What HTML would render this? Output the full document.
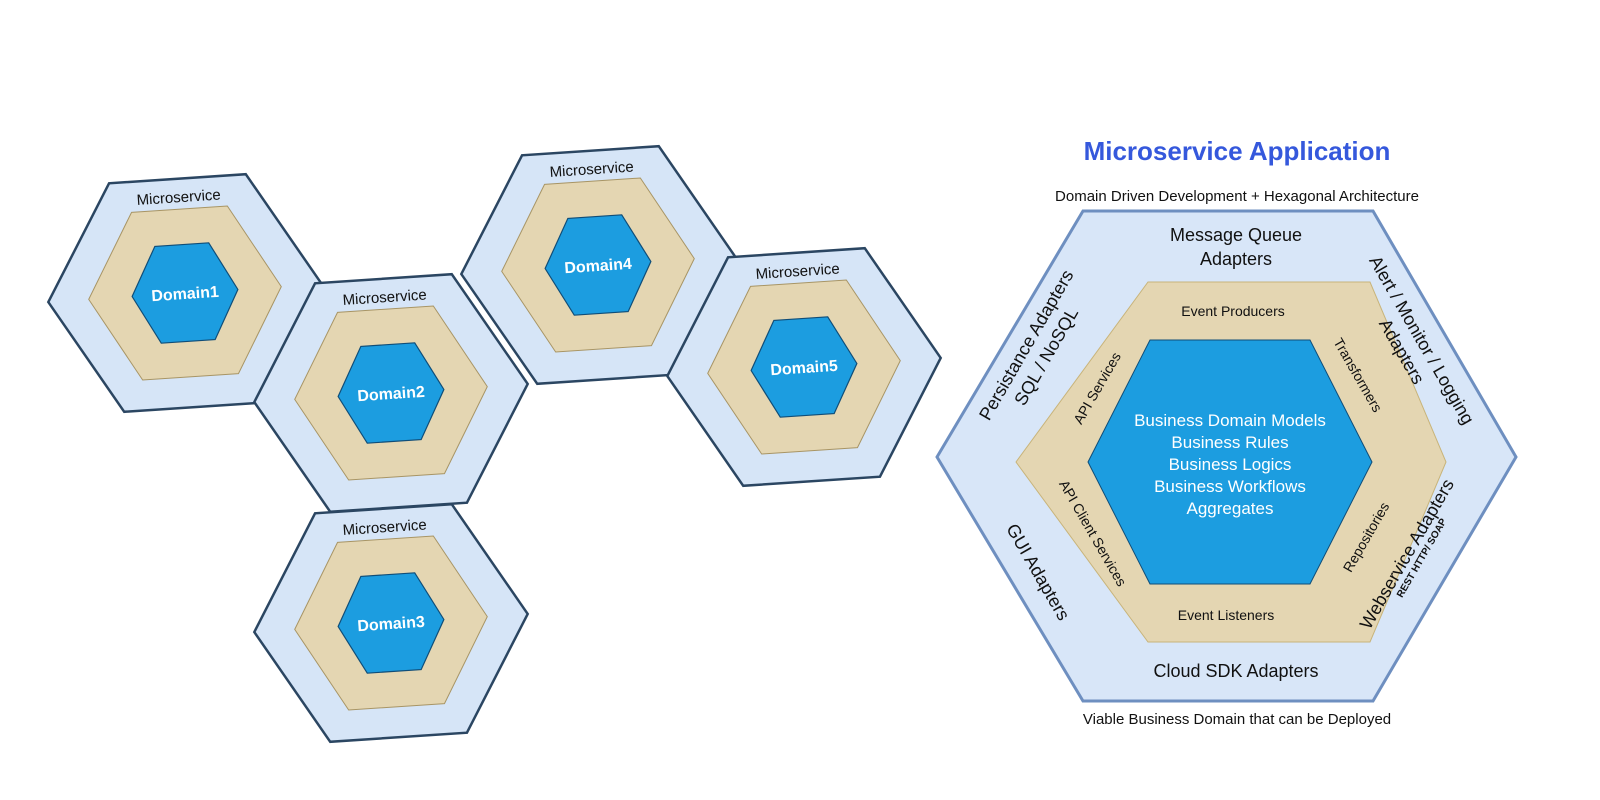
<!DOCTYPE html>
<html><head><meta charset="utf-8"><style>
html,body{margin:0;padding:0;background:#fff;}
svg{display:block;}
text{font-family:"Liberation Sans",Arial,sans-serif;}
</style></head><body>
<svg width="1600" height="800" viewBox="0 0 1600 800" xmlns="http://www.w3.org/2000/svg">
<defs>
<g id="hx">
  <polygon points="-137,0 -68.5,-114.5 68.5,-114.5 137,0 68.5,114.5 -68.5,114.5" fill="#d6e5f7" stroke="#2b4662" stroke-width="2.5"/>
  <polygon points="-96.5,0 -48,-84 48,-84 96.5,0 48,84 -48,84" fill="#e4d6b2" stroke="#a89565" stroke-width="1"/>
  <polygon points="-53,0 -27,-48.5 27,-48.5 53,0 27,48.5 -27,48.5" fill="#1c9de0" stroke="#0f4d78" stroke-width="1.2"/>
  <text x="0" y="-91" font-size="15" text-anchor="middle" fill="#111">Microservice</text>
</g>
</defs>

<g transform="translate(185,293) rotate(-3.8)"><use href="#hx"/><text x="0" y="6" font-size="16" font-weight="bold" fill="#fff" text-anchor="middle">Domain1</text></g>
<g transform="translate(391,393) rotate(-3.8)"><use href="#hx"/><text x="0" y="6" font-size="16" font-weight="bold" fill="#fff" text-anchor="middle">Domain2</text></g>
<g transform="translate(391,623) rotate(-3.8)"><use href="#hx"/><text x="0" y="6" font-size="16" font-weight="bold" fill="#fff" text-anchor="middle">Domain3</text></g>
<g transform="translate(598,265) rotate(-3.8)"><use href="#hx"/><text x="0" y="6" font-size="16" font-weight="bold" fill="#fff" text-anchor="middle">Domain4</text></g>
<g transform="translate(804,367) rotate(-3.8)"><use href="#hx"/><text x="0" y="6" font-size="16" font-weight="bold" fill="#fff" text-anchor="middle">Domain5</text></g>

<!-- right diagram -->
<text x="1237" y="160" font-size="26" font-weight="bold" fill="#3558dc" text-anchor="middle">Microservice Application</text>
<text x="1237" y="201" font-size="15" fill="#111" text-anchor="middle">Domain Driven Development + Hexagonal Architecture</text>
<polygon points="937,457 1083,211 1373,211 1516,457 1373,701 1083,701" fill="#d8e6f8" stroke="#6e8fc0" stroke-width="3"/>
<polygon points="1016,462 1148,282 1370,282 1446,462 1370,642 1148,642" fill="#e4d6b2" stroke="#c8b47a" stroke-width="1"/>
<polygon points="1088,462 1150,340 1310,340 1372,462 1310,584 1150,584" fill="#1c9de0" stroke="#0f4d78" stroke-width="1"/>
<text x="1237" y="724" font-size="15" fill="#111" text-anchor="middle">Viable Business Domain that can be Deployed</text>

<g font-size="18" fill="#111" text-anchor="middle">
<text x="1236" y="241">Message Queue</text>
<text x="1236" y="265">Adapters</text>
<text x="1236" y="677">Cloud SDK Adapters</text>
<g transform="translate(1035,350) rotate(-60)"><text x="0" y="-4">Persistance Adapters</text><text x="0" y="19">SQL / NoSQL</text></g>
<g transform="translate(1413,345) rotate(60)"><text x="0" y="-4">Alert / Monitor / Logging</text><text x="0" y="19">Adapters</text></g>
<g transform="translate(1038,572) rotate(60)"><text x="0" y="6">GUI Adapters</text></g>
<g transform="translate(1412,557) rotate(-60)"><text x="0" y="0">Webservice Adapters</text><text x="4" y="12" font-size="10" font-weight="bold">REST HTTP/ SOAP</text></g>
</g>

<g font-size="14" fill="#111" text-anchor="middle">
<text x="1233" y="316">Event Producers</text>
<text x="1226" y="620">Event Listeners</text>
<g transform="translate(1097,388) rotate(-60)"><text x="0" y="5">API Services</text></g>
<g transform="translate(1358,375) rotate(60)"><text x="0" y="5">Transformers</text></g>
<g transform="translate(1093,533) rotate(60)"><text x="0" y="5">API Client Services</text></g>
<g transform="translate(1366,537) rotate(-60)"><text x="0" y="5">Repositories</text></g>
</g>

<g font-size="17" fill="#fff" text-anchor="middle">
<text x="1230" y="426">Business Domain Models</text>
<text x="1230" y="448">Business Rules</text>
<text x="1230" y="470">Business Logics</text>
<text x="1230" y="492">Business Workflows</text>
<text x="1230" y="514">Aggregates</text>
</g>
</svg>
</body></html>
